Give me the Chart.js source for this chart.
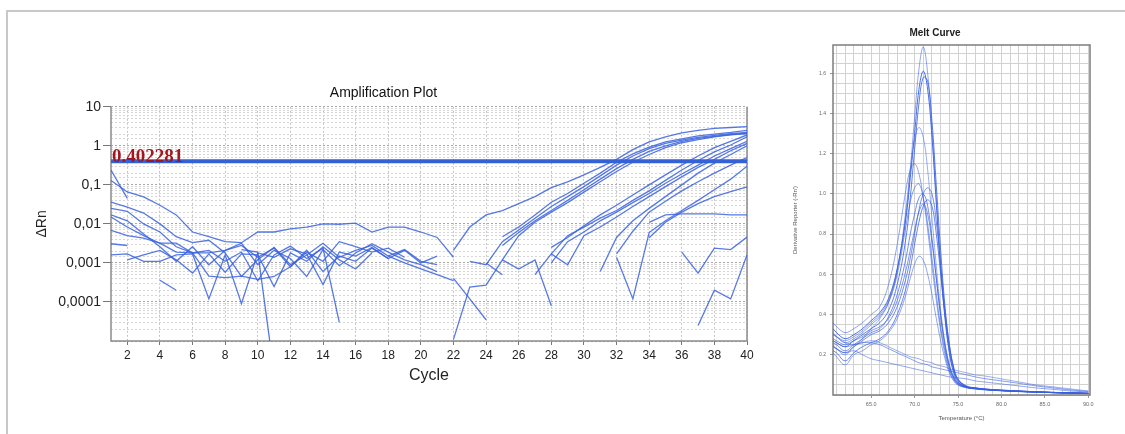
<!DOCTYPE html>
<html>
<head>
<meta charset="utf-8">
<title>Amplification Plot / Melt Curve</title>
<script src="https://cdn.jsdelivr.net/npm/chart.js@4.4.0/dist/chart.umd.min.js"></script>
<style>
  body { margin: 0; background: #fff; }
  .sheet { position: absolute; left: 6px; top: 10px; right: 0; bottom: 0; border-top: 2px solid #c8c8c8; border-left: 2px solid #c8c8c8; }
  #ampChart { position: absolute; left: 0; top: 0; }
  #meltChart { position: absolute; left: 770px; top: 0; }
</style>
</head>
<body>
<div class="sheet"></div>
<canvas id="ampChart" width="770" height="434"></canvas>
<canvas id="meltChart" width="355" height="434"></canvas>
<script>
// ---- Amplification plot ----
const cycleTicks = [2, 4, 6, 8, 10, 12, 14, 16, 18, 20, 22, 24, 26, 28, 30, 32, 34, 36, 38, 40];
const deltaRnTicks = [10, 1, 0.1, 0.01, 0.001, 0.0001];
const deltaRnTickText = ['10', '1', '0,1', '0,01', '0,001', '0,0001'];
const threshold = 0.402281;

// ΔRn per well, first value is at the start cycle given in ampRuns
const run01 = [0.24, 0.045];
const run02 = [0.13, 0.066, 0.049, 0.03, 0.017, 0.0062, 0.0047, 0.0035, 0.0033, 0.0062, 0.0062, 0.0075, 0.0083, 0.01, 0.0098, 0.0105, 0.0062, 0.0083, 0.0083, 0.0062, 0.0045, 0.0014];
const run03 = [0.036, 0.027, 0.019, 0.01, 0.0047, 0.0033, 0.0038, 0.0018, 0.00045, 0.0012, 0.0025, 0.0009, 0.0016, 0.0032, 0.0014, 0.0021, 0.0028, 0.0015, 0.0022, 0.0011, 0.0009];
const run04 = [0.025, 0.021, 0.01, 0.0062, 0.0026, 0.0018, 0.0018, 0.0021, 0.0032, 0.0009, 0.0021, 0.0013, 0.00045, 0.0022, 0.00085, 0.0018, 0.0031, 0.0019, 0.0012, 0.0009, 0.0006];
const run05 = [0.017, 0.012, 0.0055, 0.0026, 0.0011, 0.0026, 0.0009, 0.0021, 0.0028, 0.0014, 0.0024, 0.0008, 0.0019, 0.0011, 0.0035, 0.0026, 0.0019, 0.0024, 0.0014];
const run06 = [0.015, 0.0083, 0.005, 0.0032, 0.0032, 0.0018, 0.0021, 0.0011, 0.0019, 0.00035, 0.0016, 0.0027, 0.0013, 0.0024, 0.00003];
const run07 = [0.0068, 0.005, 0.0043, 0.0032, 0.0019, 0.0018, 0.00046, 0.00042, 0.00046, 0.00038, 0.00045, 0.0008, 0.0021, 0.0006, 0.0015, 0.0011, 0.0024, 0.0013, 0.0021, 0.001, 0.0015];
const run08 = [0.0031, 0.0028];
const run09 = [0.0016, 0.0017, 0.0011, 0.0011, 0.0016, 0.0017, 0.00012, 0.0016, 0.00009, 0.0018, 0.0014, 0.0023, 0.0017, 0.00028, 0.0019, 0.0015, 0.0025, 0.0013];
const run10 = [0.0012, 0.0016, 0.0021, 0.0012, 0.00055, 0.0017, 0.00058, 0.0017, 0.0016, 0.00025, 0.0018, 0.0011, 0.0026, 0.0012, 0.0007, 0.0018];
const run11 = [0.0022, 0.0019, 0.0000015];
const run12 = [0.00036, 0.0002];
const run13 = [0.0015, 0.001, 0.0007, 0.0005, 0.00035];
const run14 = [0.0004, 0.00012, 0.000035];
const run15 = [0.001, 0.0005];
const run16 = [0.0012, 0.0007, 0.0012, 0.00008];
const run17 = [0.0021, 0.0083, 0.017, 0.022, 0.033, 0.05, 0.085, 0.12, 0.18, 0.28, 0.45, 0.8, 1.26, 1.7, 2.15, 2.5, 2.8, 2.95, 3.1];
const run18 = [0.0047, 0.0083, 0.017, 0.036, 0.06, 0.11, 0.2, 0.38, 0.62, 0.93, 1.26, 1.5, 1.8, 2.0, 2.2, 2.5];
const run19 = [0.0011, 0.0009, 0.0035, 0.007, 0.014, 0.028, 0.05, 0.09, 0.17, 0.32, 0.55, 0.85, 1.15, 1.4, 1.65, 1.85, 2.05, 2.2];
const run20 = [0.0028, 0.006, 0.012, 0.022, 0.04, 0.075, 0.14, 0.26, 0.45, 0.72, 1.0, 1.3, 1.55, 1.75, 1.95, 2.1];
const run21 = [0.000011, 0.00024, 0.00027, 0.0012, 0.005, 0.011, 0.02, 0.035, 0.065, 0.12, 0.22, 0.38, 0.6, 0.9, 1.2, 1.45, 1.7, 1.9, 2.05];
const run22 = [0.0017, 0.005, 0.0083, 0.014, 0.022, 0.04, 0.07, 0.13, 0.24, 0.42, 0.7, 1.05, 1.7];
const run23 = [0.0025, 0.0045, 0.009, 0.017, 0.03, 0.055, 0.1, 0.18, 0.32, 0.55, 0.9, 1.3, 1.9];
const run24 = [0.001, 0.0035, 0.0062, 0.012, 0.02, 0.035, 0.06, 0.11, 0.19, 0.32, 0.55, 0.85, 1.3];
const run25 = [0.0005, 0.0017, 0.0009, 0.005, 0.0083, 0.015, 0.028, 0.05, 0.09, 0.16, 0.28, 0.45, 0.75, 1.15];
const run26 = [0.0006, 0.0045, 0.012, 0.025, 0.05, 0.1, 0.2, 0.36, 0.6, 1.0];
const run27 = [0.0017, 0.0065, 0.02, 0.038, 0.07, 0.12, 0.2, 0.32, 0.5];
const run28 = [0.0014, 0.00012, 0.006, 0.012, 0.022, 0.04, 0.075, 0.14, 0.3];
const run29 = [0.0044, 0.011, 0.02, 0.033, 0.05, 0.067, 0.089];
const run30 = [0.011, 0.017, 0.018, 0.018, 0.018, 0.017, 0.017];
const run31 = [0.0019, 0.00055, 0.0024, 0.0022, 0.0046];
const run32 = [0.000025, 0.0002, 0.00012, 0.0016];

// [start cycle, values]
const ampRuns = [
  [1, run01], [1, run02], [1, run03], [1, run04], [1, run05], [1, run06], [1, run07], [1, run08],
  [1, run09], [2, run10], [9, run11], [4, run12], [18, run13], [22, run14], [24, run15], [25, run16],
  [22, run17], [25, run18], [23, run19], [25, run20], [22, run21], [28, run22], [28, run23], [28, run24],
  [27, run25], [31, run26], [32, run27], [32, run28], [34, run29], [34, run30], [36, run31], [37, run32]
];

// ---- Melt curve ----
const meltTemps = [60.6, 61, 62, 63, 64, 65, 66, 67, 68, 69, 69.5, 70, 70.5, 71, 71.5, 72, 72.5, 73, 73.5, 74, 74.5, 75, 76, 77, 78, 80, 82, 84, 86, 88, 90];
const meltTempTicks = [65, 70, 75, 80, 85, 90];
const meltA = [0.30, 0.29, 0.27, 0.29, 0.32, 0.36, 0.40, 0.47, 0.62, 0.90, 1.12, 1.38, 1.62, 1.73, 1.60, 1.32, 0.98, 0.66, 0.40, 0.22, 0.12, 0.07, 0.04, 0.035, 0.03, 0.025, 0.02, 0.016, 0.013, 0.01, 0.008];
const meltB = [0.33, 0.31, 0.28, 0.30, 0.33, 0.37, 0.41, 0.48, 0.63, 0.88, 1.08, 1.30, 1.52, 1.61, 1.52, 1.28, 0.95, 0.63, 0.38, 0.21, 0.11, 0.065, 0.038, 0.032, 0.028, 0.022, 0.018, 0.015, 0.012, 0.01, 0.008];
const meltC = [0.27, 0.26, 0.24, 0.27, 0.30, 0.33, 0.36, 0.42, 0.55, 0.78, 0.98, 1.22, 1.45, 1.58, 1.56, 1.36, 1.04, 0.72, 0.44, 0.25, 0.13, 0.075, 0.042, 0.035, 0.03, 0.024, 0.02, 0.016, 0.013, 0.01, 0.008];
const meltD = [0.25, 0.23, 0.20, 0.24, 0.28, 0.33, 0.38, 0.46, 0.62, 0.92, 1.12, 1.27, 1.33, 1.28, 1.12, 0.88, 0.64, 0.42, 0.26, 0.15, 0.09, 0.06, 0.04, 0.033, 0.028, 0.022, 0.018, 0.015, 0.012, 0.01, 0.008];
const meltE = [0.36, 0.34, 0.31, 0.33, 0.36, 0.40, 0.44, 0.55, 0.75, 1.02, 1.12, 1.15, 1.10, 0.98, 0.82, 0.64, 0.47, 0.32, 0.2, 0.12, 0.075, 0.05, 0.036, 0.03, 0.026, 0.021, 0.017, 0.014, 0.012, 0.01, 0.008];
const meltF = [0.31, 0.29, 0.26, 0.28, 0.31, 0.35, 0.39, 0.46, 0.6, 0.84, 0.96, 1.03, 1.05, 0.98, 0.85, 0.68, 0.5, 0.34, 0.22, 0.13, 0.08, 0.055, 0.038, 0.032, 0.028, 0.022, 0.018, 0.015, 0.012, 0.01, 0.008];
const meltG = [0.24, 0.23, 0.21, 0.24, 0.27, 0.3, 0.32, 0.36, 0.44, 0.58, 0.68, 0.8, 0.92, 1.0, 1.03, 1.0, 0.86, 0.64, 0.42, 0.25, 0.14, 0.08, 0.045, 0.036, 0.03, 0.024, 0.02, 0.016, 0.013, 0.01, 0.008];
const meltH = [0.22, 0.21, 0.17, 0.21, 0.24, 0.26, 0.28, 0.32, 0.4, 0.53, 0.63, 0.75, 0.86, 0.94, 0.97, 0.94, 0.8, 0.6, 0.4, 0.24, 0.13, 0.075, 0.042, 0.034, 0.029, 0.023, 0.019, 0.015, 0.012, 0.01, 0.008];
const meltI = [0.28, 0.27, 0.25, 0.27, 0.29, 0.32, 0.34, 0.38, 0.47, 0.62, 0.72, 0.82, 0.91, 0.95, 0.9, 0.76, 0.58, 0.4, 0.25, 0.15, 0.09, 0.06, 0.04, 0.033, 0.028, 0.022, 0.018, 0.015, 0.012, 0.01, 0.008];
const meltJ = [0.21, 0.19, 0.15, 0.2, 0.22, 0.25, 0.27, 0.31, 0.38, 0.5, 0.58, 0.65, 0.69, 0.67, 0.6, 0.5, 0.38, 0.27, 0.18, 0.11, 0.07, 0.05, 0.036, 0.03, 0.026, 0.021, 0.017, 0.014, 0.011, 0.009, 0.007];
const meltK = [0.26, 0.25, 0.22, 0.25, 0.28, 0.31, 0.33, 0.39, 0.5, 0.68, 0.8, 0.9, 0.98, 1.0, 0.94, 0.78, 0.58, 0.39, 0.24, 0.14, 0.085, 0.055, 0.038, 0.032, 0.027, 0.022, 0.018, 0.014, 0.012, 0.01, 0.008];
// wells without a melt peak
const meltL = [0.3, 0.29, 0.26, 0.25, 0.26, 0.27, 0.26, 0.24, 0.22, 0.2, 0.19, 0.185, 0.18, 0.17, 0.165, 0.16, 0.15, 0.145, 0.14, 0.13, 0.125, 0.12, 0.11, 0.1, 0.095, 0.08, 0.065, 0.05, 0.04, 0.03, 0.02];
const meltM = [0.24, 0.23, 0.21, 0.22, 0.2, 0.18, 0.17, 0.16, 0.15, 0.14, 0.135, 0.13, 0.125, 0.12, 0.115, 0.11, 0.105, 0.1, 0.095, 0.09, 0.088, 0.085, 0.08, 0.07, 0.065, 0.055, 0.045, 0.035, 0.028, 0.02, 0.015];
const meltN = [0.27, 0.26, 0.24, 0.25, 0.26, 0.26, 0.25, 0.23, 0.21, 0.19, 0.18, 0.17, 0.16, 0.155, 0.15, 0.14, 0.135, 0.13, 0.125, 0.12, 0.115, 0.11, 0.1, 0.09, 0.082, 0.07, 0.058, 0.045, 0.035, 0.025, 0.018];
const meltWells = [meltA, meltB, meltC, meltD, meltE, meltF, meltG, meltH, meltI, meltJ, meltK, meltL, meltM, meltN];
const meltAlpha = [0.55, 0.9, 0.8, 0.5, 0.55, 0.6, 0.7, 0.75, 0.65, 0.55, 0.7, 0.5, 0.55, 0.6];

const sans = 'Liberation Sans, Arial, sans-serif';

// draws the plot box edges (Chart.js only gives left/bottom borders)
const plotFrame = {
  id: 'plotFrame',
  beforeDatasetsDraw(chart, args, opts) {
    const { ctx, chartArea: a } = chart;
    ctx.save();
    ctx.strokeStyle = opts.color;
    ctx.lineWidth = opts.width;
    ctx.beginPath();
    if (opts.closed) {
      ctx.rect(a.left, a.top, a.right - a.left, a.bottom - a.top);
    } else {
      ctx.moveTo(a.left, a.top);
      ctx.lineTo(a.left, a.bottom);
      ctx.lineTo(a.right, a.bottom);
      ctx.lineTo(a.right, a.top);
    }
    ctx.stroke();
    ctx.restore();
  }
};

const thresholdLabel = {
  id: 'thresholdLabel',
  afterDatasetsDraw(chart) {
    const { ctx, chartArea: a } = chart;
    const y = chart.scales.y.getPixelForValue(threshold);
    ctx.save();
    ctx.font = 'bold 19px "Liberation Serif", serif';
    ctx.fillStyle = '#a3161f';
    ctx.textBaseline = 'alphabetic';
    ctx.fillText(String(threshold), a.left + 1, y + 1);
    ctx.restore();
  }
};

function isDecade(v) {
  const e = Math.log10(v);
  return Math.abs(e - Math.round(e)) < 1e-6;
}

function deltaRnLabel(v) {
  const i = deltaRnTicks.findIndex(t => Math.abs(Math.log10(t) - Math.log10(v)) < 1e-6);
  return i >= 0 ? deltaRnTickText[i] : '';
}

// grid ticks every `step` between lo and hi
function gridSteps(lo, hi, step) {
  const out = [];
  for (let v = lo; v <= hi + step / 1000; v += step) out.push({ value: Math.round(v * 1000) / 1000 });
  return out;
}

const ampDatasets = [{
  data: [{ x: 1, y: threshold }, { x: 40, y: threshold }],
  borderColor: '#3461d6',
  borderWidth: 4,
  pointRadius: 0,
  order: -1
}];
ampRuns.forEach(([start, values]) => {
  ampDatasets.push({
    data: values.map((v, i) => ({ x: start + i, y: v })),
    borderColor: 'rgba(58, 98, 222, 0.85)',
    borderWidth: 1.3,
    pointRadius: 0,
    tension: 0,
    spanGaps: false
  });
});

new Chart(document.getElementById('ampChart'), {
  type: 'line',
  data: { datasets: ampDatasets },
  plugins: [plotFrame, thresholdLabel],
  options: {
    responsive: false,
    animation: false,
    layout: { padding: { left: 20, right: 23, top: 85, bottom: 45 } },
    plugins: {
      legend: { display: false },
      tooltip: { enabled: false },
      title: {
        display: true,
        text: 'Amplification Plot',
        color: '#111',
        font: { family: sans, size: 14, weight: 'normal' },
        padding: { top: 0, bottom: 5 }
      },
      plotFrame: { color: '#8c8c8c', width: 1.5, closed: false }
    },
    scales: {
      x: {
        type: 'linear',
        min: 1,
        max: 40,
        afterBuildTicks: scale => { scale.ticks = cycleTicks.map(v => ({ value: v })); },
        afterFit: scale => { scale.height = 48; },
        ticks: { color: '#222', font: { family: sans, size: 12 }, padding: 3, maxRotation: 0 },
        grid: { color: '#c4c4c4', tickColor: '#777', tickLength: 4 },
        border: { display: false, dash: [2, 2] },
        title: { display: true, text: 'Cycle', color: '#222', font: { family: sans, size: 16 }, padding: { top: 4, bottom: 4 } }
      },
      y: {
        type: 'logarithmic',
        min: 0.00001,
        max: 10,
        afterFit: scale => { scale.width = 91; },
        ticks: {
          autoSkip: false,
          callback: v => deltaRnLabel(v),
          color: '#222',
          font: { family: sans, size: 14 },
          padding: 2
        },
        grid: {
          color: ctx => isDecade(ctx.tick.value) ? '#a9a9a9' : '#d6d6d6',
          tickColor: ctx => ctx.tick && ctx.tick.label ? '#777' : 'rgba(0,0,0,0)',
          tickLength: 8
        },
        border: { display: false, dash: [2, 2] },
        title: { display: true, text: 'ΔRn', color: '#222', font: { family: sans, size: 14 }, padding: { top: 14, bottom: 0 } }
      }
    }
  }
});

const meltDatasets = meltWells.map((well, k) => ({
  data: well.map((v, i) => ({ x: meltTemps[i], y: v })),
  borderColor: `rgba(55, 95, 225, ${meltAlpha[k]})`,
  borderWidth: 1,
  pointRadius: 0,
  tension: 0.4
}));

new Chart(document.getElementById('meltChart'), {
  type: 'line',
  data: { datasets: meltDatasets },
  plugins: [plotFrame],
  options: {
    responsive: false,
    animation: false,
    layout: { padding: { left: 10, right: 35, top: 27, bottom: 8 } },
    plugins: {
      legend: { display: false },
      tooltip: { enabled: false },
      title: {
        display: true,
        text: 'Melt Curve',
        color: '#222',
        font: { family: sans, size: 10, weight: 'bold' },
        padding: { top: 0, bottom: 6 }
      },
      plotFrame: { color: '#7d7d7d', width: 1.5, closed: true }
    },
    scales: {
      x: {
        type: 'linear',
        min: 60.6,
        max: 90.2,
        afterBuildTicks: scale => { scale.ticks = gridSteps(61, 90, 1); },
        afterFit: scale => { scale.height = 31; },
        ticks: {
          autoSkip: false,
          maxRotation: 0,
          callback: v => meltTempTicks.includes(v) ? v.toFixed(1) : '',
          color: '#666',
          font: { family: sans, size: 5.5 },
          padding: 3
        },
        grid: {
          color: '#d2d2d2',
          tickColor: ctx => ctx.tick && ctx.tick.label ? '#999' : 'rgba(0,0,0,0)',
          tickLength: 3
        },
        border: { display: false },
        title: { display: true, text: 'Temperature (°C)', color: '#555', font: { family: sans, size: 6 }, padding: { top: 4, bottom: 4 } }
      },
      y: {
        type: 'linear',
        min: 0,
        max: 1.74,
        afterBuildTicks: scale => { scale.ticks = gridSteps(0, 1.7, 0.05); },
        afterFit: scale => { scale.width = 53; },
        ticks: {
          autoSkip: false,
          callback: v => (v > 0.1 && Math.abs(v * 5 - Math.round(v * 5)) < 1e-6) ? v.toFixed(1) : '',
          color: '#666',
          font: { family: sans, size: 5 },
          padding: 4
        },
        grid: {
          color: '#d2d2d2',
          tickColor: ctx => ctx.tick && ctx.tick.label ? '#999' : 'rgba(0,0,0,0)',
          tickLength: 3
        },
        border: { display: false },
        title: { display: true, text: "Derivative Reporter (-Rn')", color: '#555', font: { family: sans, size: 6 }, padding: { top: 12, bottom: 0 } }
      }
    }
  }
});
</script>
</body>
</html>
